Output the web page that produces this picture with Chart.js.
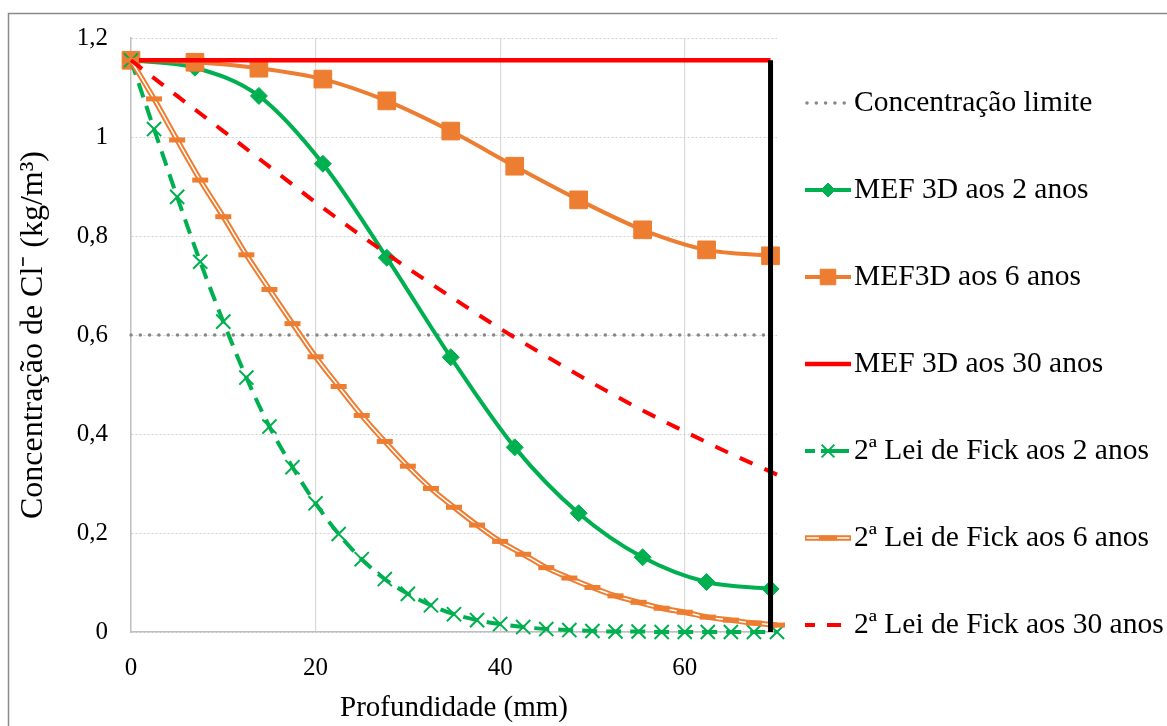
<!DOCTYPE html>
<html>
<head>
<meta charset="utf-8">
<script src="https://cdn.jsdelivr.net/npm/chart.js@4.4.1/dist/chart.umd.min.js"></script>
<style>
    html, body { margin: 0; padding: 0; background: #fff; }
    #wrap { width: 1167px; height: 726px; position: relative; }
</style>
</head>
<body>
<div id="wrap"><canvas id="cloretosChart"></canvas></div>
<script>
// profundidade (mm) dos nós do modelo MEF 3D
const depthMef = [0, 6.93, 13.86, 20.79, 27.72, 34.65, 41.58, 48.51, 55.44, 62.37, 69.3];
const mef2 = [1.155, 1.14, 1.083, 0.946, 0.756, 0.555, 0.373, 0.24, 0.151, 0.101, 0.087];
const mef6 = [1.155, 1.151, 1.139, 1.117, 1.073, 1.012, 0.941, 0.873, 0.8125, 0.772, 0.76];
const mef30 = [1.155, 1.155, 1.155, 1.155, 1.155, 1.155, 1.155, 1.155, 1.155, 1.155, 1.155];

// 2ª lei de Fick, passo de 2,5 mm
const depthFick = [0, 2.5, 5, 7.5, 10, 12.5, 15, 17.5, 20, 22.5, 25, 27.5, 30, 32.5, 35,
    37.5, 40, 42.5, 45, 47.5, 50, 52.5, 55, 57.5, 60, 62.5, 65, 67.5, 70];
const fick2 = [1.155, 1.016, 0.879, 0.748, 0.627, 0.514, 0.415, 0.333, 0.26, 0.198, 0.147,
    0.107, 0.077, 0.054, 0.036, 0.024, 0.016, 0.01, 0.006, 0.004, 0.002, 0.001, 0.001,
    0, 0, 0, 0, 0, 0];
const fick6 = [1.155, 1.077, 0.994, 0.913, 0.839, 0.762, 0.692, 0.623, 0.556, 0.496, 0.4375,
    0.385, 0.335, 0.29, 0.252, 0.216, 0.183, 0.157, 0.13, 0.109, 0.09, 0.073, 0.06,
    0.048, 0.04, 0.03, 0.024, 0.018, 0.014];
const depthFick30 = [0, 5, 10, 15, 20, 25, 30, 35, 40, 45, 50, 55, 60, 65, 70];
const fick30 = [1.155, 1.083, 1.012, 0.94, 0.868, 0.8, 0.735, 0.673, 0.613, 0.557, 0.503,
    0.452, 0.405, 0.36, 0.318];

const limitDepth = [0, 69.3];
const limitConc = [0.6, 0.6];
const coverDepth = [69.3, 69.3];
const coverConc = [0, 1.155];

const green = "#00B050";
const orange = "#ED7D31";
const red = "#FF0000";
const gray = "#868686";

function pts(xs, ys) {
    return xs.map((x, i) => ({ x: x, y: ys[i] }));
}

const frame = {
    id: "frame",
    beforeDraw(chart) {
        const ctx = chart.ctx;
        ctx.save();
        ctx.fillStyle = "#fff";
        ctx.fillRect(0, 0, chart.width, chart.height);
        ctx.strokeStyle = "#8a8a8a";
        ctx.lineWidth = 1.5;
        ctx.beginPath();
        ctx.moveTo(8.5, chart.height);
        ctx.lineTo(8.5, 13.5);
        ctx.lineTo(chart.width, 13.5);
        ctx.stroke();
        ctx.restore();
    }
};

// legenda ao estilo do Excel: linha + marcador + texto
const excelLegend = {
    id: "excelLegend",
    afterDraw(chart, args, opts) {
        const ctx = chart.ctx;
        const items = chart.data.datasets.filter(d => !d.noLegend);
        items.forEach((ds, i) => {
            const y = opts.top + i * opts.step;
            const x0 = opts.left;
            const x1 = opts.left + opts.sample;
            ctx.save();
            ctx.strokeStyle = ds.borderColor;
            ctx.lineWidth = ds.borderWidth;
            ctx.lineCap = ds.borderCapStyle || "butt";
            ctx.setLineDash(ds.legendDash || ds.borderDash || []);
            ctx.beginPath();
            ctx.moveTo(x0 + (ds.borderCapStyle === "round" ? 2 : 0), y);
            ctx.lineTo(x1, y);
            ctx.stroke();
            ctx.setLineDash([]);
            if (ds.legendInner) {
                ctx.strokeStyle = ds.legendInner;
                ctx.lineWidth = 1.5;
                ctx.beginPath();
                ctx.moveTo(x0 + 1.5, y);
                ctx.lineTo(x1 - 1.5, y);
                ctx.stroke();
            }
            const m = ds.legendMarker;
            if (m) {
                ctx.fillStyle = ds.borderColor;
                ctx.strokeStyle = ds.borderColor;
                ctx.lineWidth = m.width;
                Chart.helpers.drawPoint(ctx, {
                    pointStyle: m.style, radius: m.radius, rotation: 0, borderWidth: m.width
                }, (x0 + x1) / 2, y);
            }
            ctx.fillStyle = "#000";
            ctx.font = opts.font;
            ctx.textBaseline = "middle";
            ctx.textAlign = "left";
            ctx.fillText(ds.label, x1 + 3, y);
            ctx.restore();
        });
    }
};

const ctx = document.getElementById("cloretosChart");

new Chart(ctx, {
    type: "line",
    data: {
        datasets: [
            {
                label: "Concentração limite",
                data: pts(limitDepth, limitConc),
                borderColor: gray,
                borderWidth: 3.5,
                borderDash: [0, 9.3],
                borderCapStyle: "round",
                pointRadius: 0,
                order: 8
            },
            {
                label: "MEF 3D aos 2 anos",
                data: pts(depthMef, mef2),
                borderColor: green,
                backgroundColor: green,
                borderWidth: 4,
                cubicInterpolationMode: "monotone",
                pointStyle: "rectRot",
                pointRadius: 8.5,
                pointBackgroundColor: green,
                pointBorderColor: green,
                pointBorderWidth: 1,
                legendMarker: { style: "rectRot", radius: 7, width: 1 },
                order: 7
            },
            {
                label: "MEF3D aos 6 anos",
                data: pts(depthMef, mef6),
                borderColor: orange,
                backgroundColor: orange,
                borderWidth: 4,
                cubicInterpolationMode: "monotone",
                pointStyle: "rect",
                pointRadius: 12.5,
                pointBackgroundColor: orange,
                pointBorderColor: orange,
                pointBorderWidth: 1,
                legendMarker: { style: "rect", radius: 11, width: 1 },
                order: 6
            },
            {
                label: "MEF 3D aos 30 anos",
                data: pts(depthMef, mef30),
                borderColor: red,
                borderWidth: 4.5,
                pointRadius: 0,
                order: 5
            },
            {
                label: "2ª Lei de Fick aos 2 anos",
                data: pts(depthFick, fick2),
                borderColor: green,
                borderWidth: 4,
                borderDash: [15, 9],
                cubicInterpolationMode: "monotone",
                pointStyle: "crossRot",
                pointRadius: 10,
                pointBorderColor: green,
                pointBorderWidth: 2,
                legendDash: [10, 6, 28, 6],
                legendMarker: { style: "crossRot", radius: 9, width: 2 },
                order: 4
            },
            {
                label: "2ª Lei de Fick aos 6 anos",
                data: pts(depthFick, fick6),
                borderColor: orange,
                borderWidth: 5.5,
                cubicInterpolationMode: "monotone",
                pointRadius: 0,
                legendInner: "#fff",
                legendMarker: { style: "line", radius: 9, width: 5 },
                order: 3.2
            },
            {
                label: "",
                noLegend: true,
                data: pts(depthFick, fick6),
                borderColor: "#fff",
                borderWidth: 1.5,
                cubicInterpolationMode: "monotone",
                pointRadius: 0,
                order: 3.1
            },
            {
                label: "",
                noLegend: true,
                data: pts(depthFick, fick6),
                showLine: false,
                pointStyle: "line",
                pointRadius: 8,
                pointBorderColor: orange,
                pointBorderWidth: 5,
                order: 3
            },
            {
                label: "2ª Lei de Fick aos 30 anos",
                data: pts(depthFick30, fick30),
                borderColor: red,
                borderWidth: 4,
                borderDash: [14, 13],
                cubicInterpolationMode: "monotone",
                pointRadius: 0,
                legendDash: [10, 12, 14, 100],
                order: 2
            },
            {
                label: "",
                noLegend: true,
                data: pts(coverDepth, coverConc),
                borderColor: "#000",
                borderWidth: 5,
                pointRadius: 0,
                order: 1
            }
        ]
    },
    options: {
        responsive: true,
        maintainAspectRatio: false,
        animation: false,
        events: [],
        clip: false,
        layout: {
            padding: { top: 37, right: 390, bottom: 0, left: 0 }
        },
        font: { family: "'Liberation Serif', 'Times New Roman', serif" },
        scales: {
            x: {
                type: "linear",
                min: 0,
                max: 70,
                ticks: {
                    stepSize: 20,
                    includeBounds: false,
                    padding: 21,
                    color: "#000",
                    font: { family: "'Liberation Serif', serif", size: 25 }
                },
                grid: { color: "#D9D9D9", lineWidth: 1.2, drawTicks: false },
                border: { color: "#BFBFBF", width: 1.5 },
                title: {
                    display: true,
                    text: "Profundidade (mm)",
                    color: "#000",
                    font: { family: "'Liberation Serif', serif", size: 29 },
                    padding: { top: 0, bottom: 0 }
                },
                afterFit(scale) {
                    scale.height = 94;
                }
            },
            y: {
                min: 0,
                max: 1.2,
                ticks: {
                    stepSize: 0.2,
                    padding: 23,
                    color: "#000",
                    font: { family: "'Liberation Serif', serif", size: 25 },
                    callback: v => String(Number(v.toFixed(1))).replace(".", ",")
                },
                grid: { color: "#D0D0D0", lineWidth: 1, drawTicks: false },
                border: { color: "#BFBFBF", width: 1.5, dash: [2, 2] },
                title: {
                    display: true,
                    text: "Concentração de Cl⁻ (kg/m³)",
                    color: "#000",
                    font: { family: "'Liberation Serif', serif", size: 32 },
                    padding: { top: 14, bottom: 0 }
                },
                afterFit(scale) {
                    scale.width = 131;
                }
            }
        },
        plugins: {
            legend: { display: false },
            tooltip: { enabled: false },
            excelLegend: {
                left: 805,
                sample: 46,
                top: 103,
                step: 87,
                font: "29.5px 'Liberation Serif'"
            }
        }
    },
    plugins: [frame, excelLegend]
});
</script>
</body>
</html>
